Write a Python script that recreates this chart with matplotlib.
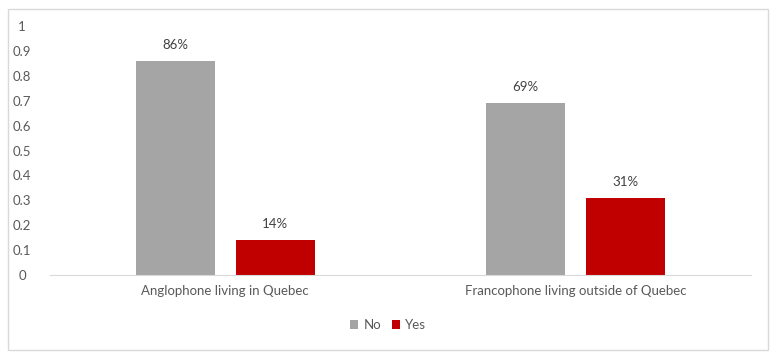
import numpy as np
import matplotlib.pyplot as plt
from matplotlib.patches import Rectangle

categories = ['Anglophone living in Quebec', 'Francophone living outside of Quebec']
no_vals = [0.86, 0.69]
yes_vals = [0.14, 0.31]
yticks = [0, 0.1, 0.2, 0.3, 0.4, 0.5, 0.6, 0.7, 0.8, 0.9, 1]
ytick_labels = ['0', '0.1', '0.2', '0.3', '0.4', '0.5', '0.6', '0.7', '0.8', '0.9', '1']

plt.rcParams['font.family'] = ['Lato', 'DejaVu Sans']
txt = '#595959'
fs = 9.5

fig = plt.figure(figsize=(7.77, 3.58), dpi=100)
fig.patches.append(Rectangle((8/777, 8/358), 760/777, 341/358, transform=fig.transFigure,
                             fill=False, edgecolor='#D9D9D9', lw=1))
ax = fig.add_axes([50/777, 1 - 275/358, 701/777, 249/358])

x = np.arange(len(categories))
w = 0.225
off = 0.1425
b1 = ax.bar(x - off, no_vals, w, color='#A5A5A5', label='No')
b2 = ax.bar(x + off, yes_vals, w, color='#C00000', label='Yes')
for bars, vals in ((b1, no_vals), (b2, yes_vals)):
    for r, v in zip(bars, vals):
        ax.annotate(f'{round(v*100)}%', (r.get_x() + r.get_width()/2, v),
                    xytext=(0, 7), textcoords='offset points', ha='center', va='bottom',
                    fontsize=fs, color='#404040')

ax.set_xlim(-0.5, 1.5)
ax.set_ylim(0, 1)
ax.set_yticks(yticks)
ax.set_yticklabels(ytick_labels)
ax.set_xticks(x)
ax.set_xticklabels(categories)
ax.tick_params(axis='both', length=0, labelsize=fs, colors=txt)
ax.tick_params(axis='y', pad=20)
ax.tick_params(axis='x', pad=7)
for lbl in ax.get_yticklabels():
    lbl.set_horizontalalignment('center')
for s in ['top', 'right', 'left']:
    ax.spines[s].set_visible(False)
ax.spines['bottom'].set_color('#D9D9D9')

leg = fig.legend(loc='center', bbox_to_anchor=(388/777, 1 - 325/358), ncol=2, frameon=False,
                 fontsize=fs, handlelength=0.6, handleheight=0.6, handletextpad=0.4,
                 columnspacing=0.8)
for t in leg.get_texts():
    t.set_color(txt)

fig.savefig('out.png', dpi=100)
